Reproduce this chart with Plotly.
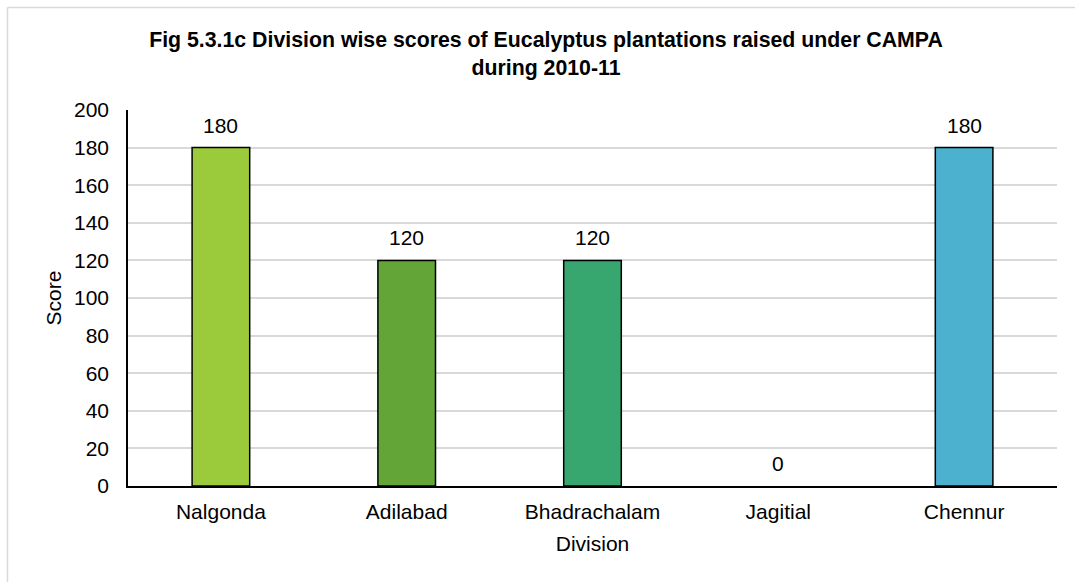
import plotly.graph_objects as go

divisions = ["Nalgonda", "Adilabad", "Bhadrachalam", "Jagitial", "Chennur"]
scores = [180, 120, 120, 0, 180]
bar_colors = ["#9BCB3B", "#63A537", "#37A76F", "#44546A", "#4BB1CF"]
y_ticks = [0, 20, 40, 60, 80, 100, 120, 140, 160, 180, 200]

W, H = 1075, 582
L, R, T, B = 128, 18, 110, 96
pw, ph = W - L - R, H - T - B

FONT = "Liberation Sans, Arial, sans-serif"

fig = go.Figure()
fig.add_trace(go.Bar(
    x=divisions, y=scores,
    marker=dict(color=bar_colors,
                line=dict(color="#000000", width=[1.5 if v > 0 else 0 for v in scores])),
    width=0.31,
    showlegend=False,
    hoverinfo="x+y",
))

for d, v in zip(divisions, scores):
    fig.add_annotation(
        x=d, y=v, xref="x", yref="y",
        text=str(v), showarrow=False,
        yanchor="bottom", xanchor="center", yshift=9,
        font=dict(family=FONT, size=21, color="#000000"),
    )

def px_x(p):
    return (p - L) / pw

def px_y(p):
    return (H - B - p) / ph

shapes = [
    dict(type="line", xref="paper", yref="paper",
         x0=px_x(7.5), x1=px_x(1100), y0=px_y(7.5), y1=px_y(7.5),
         line=dict(color="#D9D9D9", width=1.5)),
    dict(type="line", xref="paper", yref="paper",
         x0=px_x(7.5), x1=px_x(7.5), y0=px_y(7.5), y1=px_y(600),
         line=dict(color="#D9D9D9", width=1.5)),
]

fig.update_layout(
    width=W, height=H,
    margin=dict(l=L, r=R, t=T, b=B, pad=0),
    paper_bgcolor="#FFFFFF", plot_bgcolor="#FFFFFF",
    font=dict(family=FONT, size=21, color="#000000"),
    title=dict(
        text="<b>Fig 5.3.1c Division wise scores of Eucalyptus plantations raised under CAMPA<br>during 2010-11</b>",
        x=546 / W, xanchor="center", xref="container",
        y=1 - 47 / H, yanchor="top", yref="container",
        font=dict(family=FONT, size=21.3, color="#000000"),
    ),
    shapes=shapes,
)

fig.update_xaxes(
    showline=True, linecolor="#000000", linewidth=1.5,
    showgrid=False, ticks="", ticklabelstandoff=6,
    tickfont=dict(family=FONT, size=21, color="#000000"),
    title=dict(text="Division", standoff=14, font=dict(family=FONT, size=21, color="#000000")),
)
fig.update_yaxes(
    range=[0, 200], tickvals=y_ticks,
    showline=True, linecolor="#000000", linewidth=1.5,
    showgrid=True, gridcolor="#D9D9D9", gridwidth=1.5,
    zeroline=False, ticks="", ticklabelstandoff=13,
    tickfont=dict(family=FONT, size=21, color="#000000"),
    title=dict(text="Score", standoff=7, font=dict(family=FONT, size=21, color="#000000")),
)

fig.write_html("out.html")
